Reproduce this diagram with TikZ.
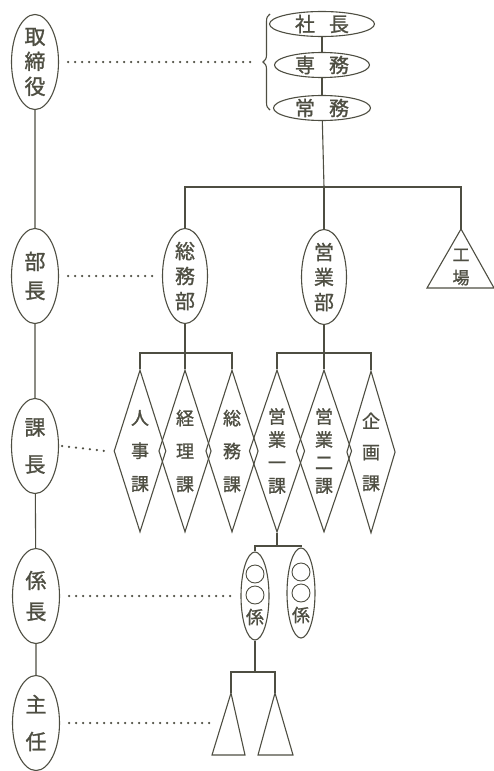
\documentclass[tikz,border=0pt]{standalone}
\usepackage{fontspec}
\newfontfamily\jp[FakeBold=1.2]{Noto Sans CJK JP}
\usetikzlibrary{shapes.geometric,decorations.pathreplacing,calc}
\definecolor{ink}{RGB}{78,78,66}
\begin{document}
\begin{tikzpicture}[x=1pt,y=-1pt,color=ink,line width=1.1pt,
  rank/.style={ellipse,draw,inner sep=-20pt,minimum width=47pt,minimum height=95pt,align=center,font=\jp\fontsize{21}{#1}\selectfont},
  topell/.style={ellipse,draw,inner sep=-20pt,minimum width=#1,minimum height=25pt,font=\jp\fontsize{20}{24}\selectfont},
  dept/.style={ellipse,draw,inner sep=-20pt,minimum width=45pt,minimum height=95pt,align=center,font=\jp\fontsize{20}{25}\selectfont},
  ka/.style={diamond,draw,inner sep=-12pt,minimum width=44pt,minimum height=162pt,align=center,font=\jp\fontsize{18}{#1}\selectfont},
  kakari/.style={ellipse,draw,inner sep=0pt,minimum width=28pt,minimum height=#1},
  ring/.style={circle,draw,inner sep=0pt,minimum size=18pt,line width=0.9pt},
  plain/.style={align=center,inner sep=0pt,font=\jp\fontsize{#1}{23}\selectfont},
  dots/.style={line width=2.5pt,line cap=round,dash pattern=on 0pt off 7pt}]
\useasboundingbox (0,0) rectangle (494,771);

% left column of ranks
\node[rank=25] (torishimari) at (35,62) {取\\締\\役};
\node[rank=29] (bucho) at (35,276) {部\\長};
\node[rank=37] (kacho) at (35,446) {課\\長};
\node[rank=31] (kakaricho) at (36,596) {係\\長};
\node[rank=37] (shunin) at (36,723) {主\\任};
\draw (torishimari) -- (bucho) -- (kacho) -- (kakaricho) -- (shunin);

% top executives
\node[topell=105pt] (shacho) at (322,24) {社\hspace{14pt}長};
\node[topell=95pt] (senmu) at (322,65) {専\hspace{14pt}務};
\node[topell=97pt] (jomu) at (322,108) {常\hspace{14pt}務};
\draw (shacho) -- (senmu) -- (jomu);
\draw[decorate,decoration={brace,amplitude=7pt}] (270,110) -- (270,14);
\coordinate (bracetip) at (257,62);

% departments
\node[dept] (somubu) at (185,276) {総\\務\\部};
\node[dept] (eigyobu) at (324,277) {営\\業\\部};
\coordinate (kojo) at (461,229);
\draw (kojo) -- ++(-34,59) -- ++(67,0) -- cycle;
\node[plain=17] (kojotext) at (461,267) {工\\場};
\coordinate (b1) at (324,187);
\draw (jomu) -- (b1);
\draw (somubu.north) |- (b1) -| (kojo);
\draw (eigyobu.north) -- (eigyobu.north |- b1);

% sections
\node[ka=33] (d1) at (140,451) {人\\事\\課};
\node[ka=33] (d2) at (185,451) {経\\理\\課};
\node[ka=33] (d3) at (232,451) {総\\務\\課};
\node[ka=23] (d4) at (277,451) {営\\業\\一\\課};
\node[ka=23] (d5) at (324,451) {営\\業\\二\\課};
\node[ka=31] (d6) at (371,452) {企\\画\\課};
\coordinate (b2) at (185,353);
\coordinate (b3) at (324,353);
\draw (somubu) -- (d2);
\draw (d1.north) |- (b2) -| (d3.north);
\draw (eigyobu) -- (d5);
\draw (d4.north) |- (b3) -| (d6.north);

% kakari
\node[kakari=88pt] (kakari1) at (255,596) {};
\node[kakari=90pt] (kakari2) at (301,593) {};
\node[ring] (k1a) at (255,574) {};
\node[ring] (k1b) at (255,595) {};
\node[plain=18] (k1t) at (255,617) {係};
\node[ring] (k2a) at (301,572) {};
\node[ring] (k2b) at (301,593) {};
\node[plain=18] (k2t) at (301,615) {係};
\coordinate (b4) at (277,546);
\draw (d4.south) -- (b4);
\draw (kakari1.north) |- (b4) -| (kakari2.north);

% shunin triangles
\coordinate (b5) at (255,672);
\coordinate (t1) at (231,693);
\coordinate (t2) at (275,693);
\draw (kakari1.south) -- (b5);
\draw (t1) |- (b5) -| (t2);
\draw (t1) -- ++(-19,62) -- ++(33,0) -- cycle;
\draw (t2) -- ++(-17,62) -- ++(35,0) -- cycle;
\coordinate (t1left) at (210,723);

% dotted level lines
\draw[dots] ([xshift=9pt]torishimari.east) -- (bracetip);
\draw[dots] ([xshift=9pt]bucho.east) -- ([xshift=-9pt]somubu.west);
\draw[dots] ([xshift=3pt]kacho.east) -- ([xshift=-8pt]d1.west);
\draw[dots] ([xshift=9pt]kakaricho.east) -- ([xshift=-8pt]kakari1.west);
\draw[dots] ([xshift=9pt]shunin.east) -- (t1left);
\end{tikzpicture}
\end{document}
